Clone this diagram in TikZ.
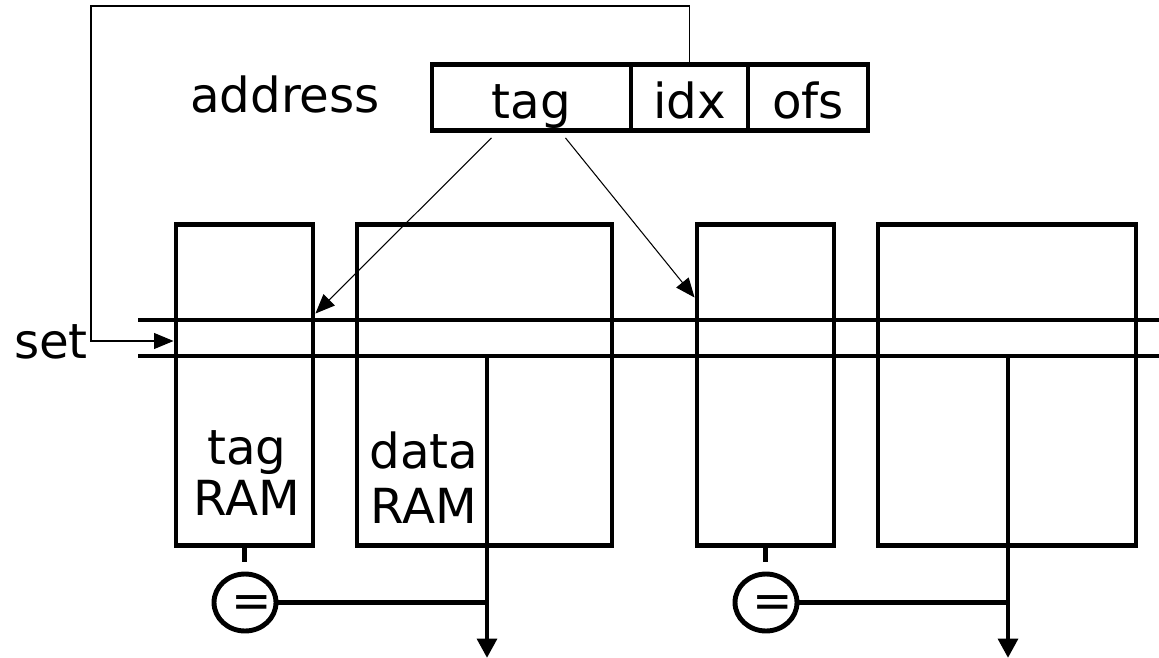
\documentclass[tikz,border=0pt]{standalone}
\usepackage{fontspec}
\setmainfont{DejaVu Sans}
\usetikzlibrary{positioning,shapes.geometric,arrows.meta}

\begin{document}
\begin{tikzpicture}[
    x=0.02cm, y=-0.02cm,
    every node/.style={font=\fontsize{27.5}{29}\selectfont},
    bus/.style={line width=2.8pt},
    field/.style={draw, bus, rectangle, minimum height=1.32cm, text height=24pt, text depth=0pt, inner sep=0pt},
    ram/.style={draw, bus, rectangle, minimum height=6.42cm, inner sep=0pt},
    cmp/.style={draw, bus, ellipse, minimum width=1.24cm, minimum height=1.14cm, inner sep=0pt},
    wire/.style={line width=0.6pt, -{Triangle[length=11pt,width=9pt]}},
    outwire/.style={bus, -{Triangle[length=11pt,width=11pt]}}
]
\useasboundingbox (0,0) rectangle (1159,658);

% address fields
\node[anchor=base] (addr) at (285,113) {address};
\node[field, minimum width=3.98cm] (tagf) at (531.5,97.5) {tag};
\node[field, minimum width=2.34cm] (idxf) at (689.5,97.5) {idx};
\node[field, minimum width=2.4cm] (ofsf) at (808,97.5) {ofs};

% two ways
\node[ram, minimum width=2.74cm] (tagA) at (244.5,385) {};
\node[ram, minimum width=5.1cm] (dataA) at (484.5,385) {};
\node[ram, minimum width=2.74cm] (tagB) at (765.5,385) {};
\node[ram, minimum width=5.16cm] (dataB) at (1007,385) {};
\node[align=center, anchor=base] (tagAlbl) at (247,515) {tag\\RAM};
\node[align=center, anchor=base, font=\fontsize{27.5}{31}\selectfont] (dataAlbl) at (424,523) {data\\RAM};

% set lines
\coordinate (s1l) at (138,320); \coordinate (s1r) at (1159,320);
\coordinate (s2l) at (138,356); \coordinate (s2r) at (1159,356);
\draw[bus] (s1l) -- (s1r);
\draw[bus] (s2l) -- (s2r);
\node[anchor=base] (set) at (51,358) {set};
\coordinate (setmid) at (0,341);

% index feeds the set
\coordinate (fb) at (91,6);
\draw[wire] (idxf.north) |- (fb) |- (tagA.west |- setmid);

% tag to the tag RAMs
\draw[wire] ([xshift=-0.8cm,yshift=-0.1cm]tagf.south) -- ([yshift=1.43cm]tagA.east);
\draw[wire] ([xshift=0.68cm,yshift=-0.1cm]tagf.south) -- ([yshift=1.75cm]tagB.west);

% compare and output
\coordinate (outA) at (487,658);
\coordinate (outB) at (1008,658);
\node[cmp] (cmpA) at (245,602.5) {};
\node[cmp] (cmpB) at (766,602.5) {};
\node (eqA) at (252,607) {=};
\node (eqB) at (773,607) {=};
\draw[bus, shorten >=0.2cm] (tagA.south) -- (tagA.south |- cmpA.north);
\draw[bus, shorten >=0.2cm] (tagB.south) -- (tagB.south |- cmpB.north);
\draw[bus] (cmpA.east) -- (cmpA.east -| outA);
\draw[bus] (cmpB.east) -- (cmpB.east -| outB);
\draw[outwire] (outA |- s2l) -- (outA);
\draw[outwire] (outB |- s2l) -- (outB);
\end{tikzpicture}
\end{document}
